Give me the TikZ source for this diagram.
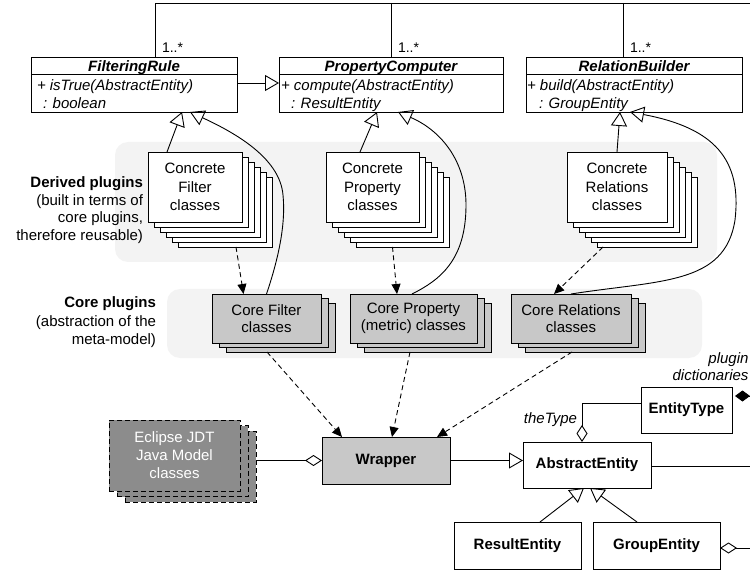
\documentclass[tikz,border=0pt]{standalone}
\usepackage{fontspec}
\setmainfont{Liberation Sans}
\usetikzlibrary{arrows.meta}
\definecolor{band}{HTML}{F3F3F3}
\definecolor{coregray}{HTML}{C8C8C8}
\definecolor{jdtgray}{HTML}{8C8C8C}
\newcommand{\myfs}{\fontsize{15}{18}\selectfont}
\begin{document}
\begin{tikzpicture}[x=1pt,y=-1pt, line width=0.9pt,
 every node/.style={inner sep=0pt, outer sep=0pt, font=\myfs},
 box/.style={draw, fill=white, align=center},
 corebox/.style={draw, fill=coregray, align=center},
 jdtbox/.style={draw, fill=jdtgray, dash pattern=on 5pt off 3pt, align=center, text=white},
 bandbox/.style={fill=band, rounded corners=13pt},
 gen/.style={-{Triangle[open,length=14pt,width=16pt]}},
 dep/.style={dash pattern=on 5pt off 3.5pt, -{Triangle[length=10pt,width=9pt]}},
 agg/.style={-{Diamond[open,length=17pt,width=11pt]}},
 comp/.style={-{Diamond[length=15pt,width=11pt]}},
 cname/.style={font=\myfs\bfseries\itshape, anchor=base},
 op/.style={font=\myfs\itshape, anchor=base west},
 lbl/.style={font=\myfs\itshape},
]
\useasboundingbox (0,0) rectangle (750,572);
\clip (0,0) rectangle (750,572);

% bands
\node[bandbox, minimum width=602pt, minimum height=120pt] (bd) at (416,202) {};
\node[bandbox, minimum width=535pt, minimum height=69pt] (bc) at (434.5,323.5) {};

% left labels
\node[anchor=east, align=right, font=\fontsize{15}{17.5}\selectfont] (dl) at (143,210)
  {\textbf{Derived plugins}\\(built in terms of\\core plugins,\\therefore reusable)};
\node[anchor=east, align=right, font=\fontsize{15}{18.5}\selectfont] (cl) at (156,322.5)
  {\textbf{Core plugins}\\(abstraction of the\\meta-model)};

% class boxes
\node[box, minimum width=206pt, minimum height=55pt] (fr) at (134,84.5) {};
\node[box, minimum width=224pt, minimum height=55pt] (pc) at (391,84.5) {};
\node[box, minimum width=216pt, minimum height=55pt] (rb) at (634,84.5) {};
\draw ([yshift=-17pt]fr.north west) -- ([yshift=-17pt]fr.north east);
\draw ([yshift=-17pt]pc.north west) -- ([yshift=-17pt]pc.north east);
\draw ([yshift=-17pt]rb.north west) -- ([yshift=-17pt]rb.north east);
\node[cname] (frT) at (134,71.5) {FilteringRule};
\node[cname] (pcT) at (391,71.5) {PropertyComputer};
\node[cname] (rbT) at (634,71.5) {RelationBuilder};
\node[op] (frA) at (37,90.5) {+ isTrue(AbstractEntity)};
\node[op] (frB) at (43,108.5) {: boolean};
\node[op] (pcA) at (281,90.5) {+ compute(AbstractEntity)};
\node[op] (pcB) at (291,108.5) {: ResultEntity};
\node[op] (rbA) at (527,90.5) {+ build(AbstractEntity)};
\node[op] (rbB) at (539,108.5) {: GroupEntity};

% top association
\coordinate (topR) at (752,3);
\coordinate (topFR) at (155,3);
\coordinate (topPC) at (391,3);
\coordinate (topRB) at (623,3);
\draw (topR) -- (topFR) -- (topFR |- fr.north);
\draw (topPC) -- (topPC |- pc.north);
\draw (topRB) -- (topRB |- rb.north);
\node[anchor=base west, font=\fontsize{14}{16}\selectfont] (m1) at (162,53) {1..*};
\node[anchor=base west, font=\fontsize{14}{16}\selectfont] (m2) at (398,53) {1..*};
\node[anchor=base west, font=\fontsize{14}{16}\selectfont] (m3) at (630,53) {1..*};

% concrete stacks
\foreach \k in {5,4,3,2,1} {
  \node[box, minimum width=94pt, minimum height=70pt] (cfl\k) at ({195+6*\k},{187+5*\k}) {};
  \node[box, minimum width=93pt, minimum height=70pt] (cpl\k) at ({372.5+6*\k},{187+5*\k}) {};
  \node[box, minimum width=100pt, minimum height=70pt] (crl\k) at ({617+6*\k},{187+5*\k}) {};
}
\node[box, minimum width=94pt, minimum height=70pt, font=\fontsize{15}{18.5}\selectfont] (cf) at (195,187) {Concrete\\Filter\\classes};
\node[box, minimum width=93pt, minimum height=70pt, font=\fontsize{15}{18.5}\selectfont] (cp) at (372.5,187) {Concrete\\Property\\classes};
\node[box, minimum width=100pt, minimum height=70pt, font=\fontsize{15}{18.5}\selectfont] (cr) at (617,187) {Concrete\\Relations\\classes};

% core stacks
\foreach \k in {2,1} {
  \node[corebox, minimum width=109pt, minimum height=49pt] (cofl\k) at ({266.5+7*\k},{318.5+4.5*\k}) {};
  \node[corebox, minimum width=127pt, minimum height=49pt] (copl\k) at ({413.5+7*\k},{318.5+4.5*\k}) {};
  \node[corebox, minimum width=120pt, minimum height=49pt] (corl\k) at ({571+7*\k},{318.5+4.5*\k}) {};
}
\node[corebox, minimum width=109pt, minimum height=49pt, font=\fontsize{15}{17}\selectfont] (cof) at (266.5,318.5) {Core Filter\\classes};
\node[corebox, minimum width=127pt, minimum height=49pt, font=\fontsize{15}{17}\selectfont] (cop) at (413.5,318.5) {Core Property\\(metric) classes};
\node[corebox, minimum width=120pt, minimum height=49pt, font=\fontsize{15}{17}\selectfont] (cor) at (571,318.5) {Core Relations\\classes};

% Eclipse JDT stack
\foreach \k in {2,1} {
  \node[jdtbox, minimum width=131pt, minimum height=71pt] (ecl\k) at ({174.5+8*\k},{455.5+5.5*\k}) {};
}
\node[jdtbox, minimum width=131pt, minimum height=71pt] (ec) at (174.5,455.5) {Eclipse JDT\\Java Model\\classes};

% entity boxes
\node[box, fill=coregray, minimum width=128pt, minimum height=47pt, font=\myfs\bfseries] (wr) at (386,460.5) {Wrapper};
\node[box, minimum width=128pt, minimum height=46pt, font=\myfs\bfseries] (ae) at (587,465) {AbstractEntity};
\node[box, minimum width=127pt, minimum height=47pt, font=\myfs\bfseries] (re) at (517.5,545.5) {ResultEntity};
\node[box, minimum width=127pt, minimum height=47pt, font=\myfs\bfseries] (ge) at (656.5,545.5) {GroupEntity};
\node[box, minimum width=91pt, minimum height=46pt, font=\myfs\bfseries] (et) at (686.5,410) {EntityType};

% generalizations / realizations to top classes
\draw[gen] ([yshift=1.5pt]fr.east) -- ([yshift=1.5pt]pc.west);
\draw[gen] ([xshift=-28pt]cf.north) -- ([xshift=48pt]fr.south);
\draw[gen] ([xshift=-12.5pt]cp.north) -- ([xshift=-14pt]pc.south);
\draw[gen] (cr.north) -- ([xshift=-14pt]rb.south);
\draw[gen] (cof.north) .. controls (278,260) and (286,225) .. (283,195)
  .. controls (280,160) and (240,135) .. ([xshift=56pt]fr.south);
\draw[gen] ([xshift=-1.5pt]cop.north) .. controls (440,280) and (466,260) .. (466,205)
  .. controls (466,160) and (440,130) .. ([xshift=7pt]pc.south);
\draw[gen] (cor.north) .. controls (660,280) and (725,285) .. (735,220)
  .. controls (742,160) and (715,128) .. ([xshift=-4pt]rb.south);

% dependencies
\draw[dep] ([xshift=11pt]cfl5.south) -- ([xshift=-23pt]cof.north);
\draw[dep] ([xshift=-10pt]cpl5.south) -- ([xshift=-16.5pt]cop.north);
\draw[dep] ([xshift=-44pt]crl5.south) -- ([xshift=-17pt]cor.north);
\draw[dep] ([xshift=-13.5pt]cofl2.south) -- ([xshift=-44pt]wr.north);
\draw[dep] ([xshift=-17.5pt]copl2.south) -- ([xshift=6pt]wr.north);
\draw[dep] ([xshift=-13pt]corl2.south) -- ([xshift=51pt]wr.north);

% lower part
\draw[agg] (ecl2.east |- wr.west) -- (wr.west);
\draw[gen] (wr.east) -- (wr.east -| ae.west);
\draw[gen] ([xshift=22.5pt]re.north) -- ([xshift=-3pt]ae.south);
\draw[gen] ([xshift=-19.5pt]ge.north) -- ([xshift=3pt]ae.south);
\draw[agg] ([yshift=7pt]et.west) -| ([xshift=-5pt]ae.north);
\node[lbl, anchor=base east] (tt) at (577,423) {theType};

\coordinate (etR) at (752,396);
\draw[comp] (etR) -- ([xshift=3pt]etR -| et.east);
\node[lbl, anchor=base east] (pl1) at (748.5,363) {plugin};
\node[lbl, anchor=base east] (pl2) at (748.5,380) {dictionaries};

\coordinate (aeR) at (752,466);
\draw (ae.east |- aeR) -- (aeR);
\coordinate (geR) at (752,548);
\draw[agg] (geR) -- (geR -| ge.east);
\end{tikzpicture}
\end{document}
